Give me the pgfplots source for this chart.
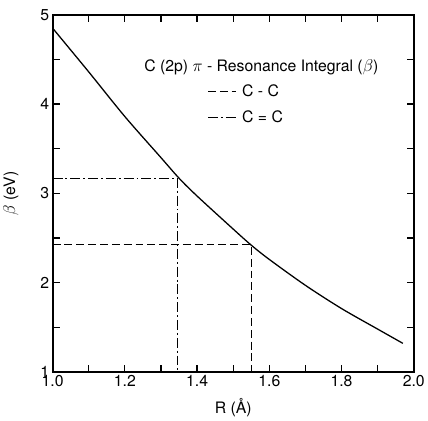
\documentclass[border=0pt]{standalone}
\usepackage{fontspec}
\setmainfont{TeX Gyre Heros}
\usepackage{pgfplots}
\pgfplotsset{compat=1.18}

\begin{document}
\begin{tikzpicture}
\begin{axis}[
  scale only axis,
  width=366pt, height=362pt,
  xmin=1.0, xmax=2.0, ymin=1, ymax=5,
  xtick={1.0,1.2,...,2.0},
  minor xtick={1.1,1.3,...,1.9},
  ytick={1,2,3,4,5},
  minor ytick={1.5,2.5,3.5,4.5},
  xticklabel style={/pgf/number format/.cd,fixed,fixed zerofill,precision=1},
  /pgf/number format/assume math mode=true,
  tick pos=both, tick align=inside,
  major tick length=7pt, minor tick length=7pt,
  every tick/.style={black, line width=1.2pt},
  axis line style={line width=2.2pt},
  tick label style={font=\fontsize{16}{19}\selectfont},
  label style={font=\fontsize{16}{19}\selectfont},
  xlabel={R (Å)},
  ylabel={$\beta$ (eV)},
  xlabel style={yshift=-5pt},
  ylabel style={at={(axis description cs:-0.085,0.5)}},
  legend style={draw=none, fill=none, at={(0.42,0.815)}, anchor=north west,
    font=\fontsize{16}{19}\selectfont, row sep=9pt},
  legend cell align=left,
  legend image code/.code={\draw[#1] (0pt,0pt) -- (28pt,0pt);},
]
% resonance integral curve
\addplot[black, line width=1.3pt, smooth, forget plot] coordinates {
  (1.00,4.85) (1.10,4.36) (1.20,3.86) (1.30,3.40) (1.35,3.17) (1.40,2.97)
  (1.50,2.60) (1.55,2.42) (1.60,2.26) (1.70,1.97) (1.80,1.71) (1.90,1.48)
  (1.97,1.32)
};
% C-C
\addplot[black, line width=1.2pt, dash pattern=on 8pt off 4pt] coordinates {
  (1.00,2.43) (1.55,2.43) (1.55,1.00)
};
\addlegendentry{\hspace{4pt}C - C}
% C=C
\addplot[black, line width=1.2pt, dash pattern=on 10pt off 3pt on 2pt off 3pt] coordinates {
  (1.00,3.17) (1.345,3.17) (1.345,1.00)
};
\addlegendentry{\hspace{4pt}C = C}
\node[font=\fontsize{16}{19}\selectfont] at (axis cs:1.578,4.41)
  {C (2p) $\pi$ - Resonance Integral ($\beta$)};
\end{axis}
% extra room above the frame, as in the original
\path ([yshift=15pt]current axis.north west) -- ([yshift=15pt]current axis.north east);
\end{tikzpicture}
\end{document}
